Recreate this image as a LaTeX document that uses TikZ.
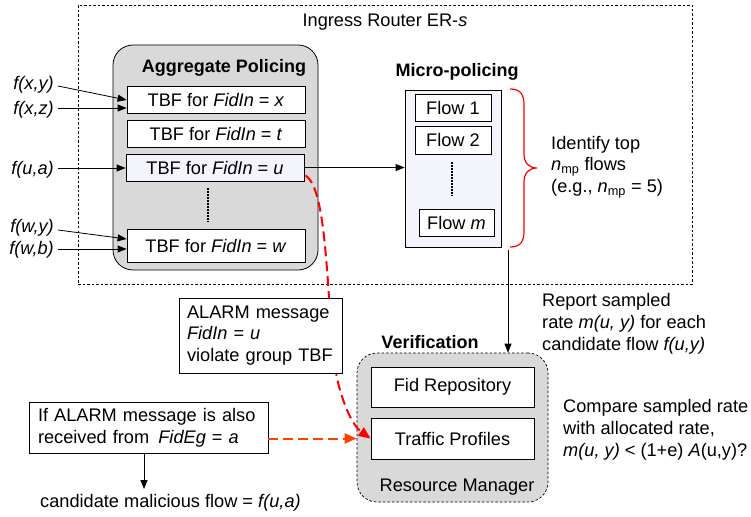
\documentclass[tikz,border=0pt]{standalone}
\usepackage{fontspec}
\setmainfont{Liberation Sans}
\usetikzlibrary{arrows.meta,calc}
\definecolor{grayfill}{RGB}{217,217,217}
\definecolor{lavfill}{RGB}{244,244,252}
\definecolor{alarmred}{RGB}{255,0,0}
\definecolor{alarmorange}{RGB}{255,64,0}
\begin{document}
\begin{tikzpicture}[x=1pt,y=-1pt,
  font=\fontsize{18.2}{21.8}\selectfont,
  box/.style={draw=black, line width=0.8pt, fill=white, inner sep=0pt},
  txt/.style={inner sep=0pt},
  ttl/.style={inner sep=0pt, font=\fontsize{18}{21.8}\selectfont\bfseries},
  arr/.style={line width=0.8pt, -{Triangle[length=9pt,width=7pt]}},
  dashbox/.style={draw=black, line width=0.7pt, dash pattern=on 2.5pt off 2pt},
  vdots/.style={line width=1.8pt, dash pattern=on 2pt off 1pt},
  reddash/.style={draw=alarmred, line width=2pt, dash pattern=on 10pt off 5pt,
    -{Triangle[length=12pt,width=10pt,fill=alarmred]}},
  orangedash/.style={draw=alarmorange, line width=2pt, dash pattern=on 10pt off 5pt,
    -{Triangle[length=12pt,width=10pt,fill=alarmorange]}}
]
\fill[white] (0,0) rectangle (751,516);
\useasboundingbox (0,0) rectangle (751,516);

% outer router box
\node[dashbox, minimum width=614pt, minimum height=279pt] (router) at (385,144.5) {};
\node[txt] (routerttl) at (385,22) {Ingress Router ER-\textit{s}};

% aggregate policing
\node[draw=black, line width=0.8pt, fill=grayfill, rounded corners=20pt,
      minimum width=205pt, minimum height=225pt] (agg) at (215.5,157.5) {};
\node[ttl] (aggttl) at (224,68) {Aggregate Policing};
\node[box, minimum width=178pt, minimum height=27pt] (tbfx) at (216,99.5) {TBF for \textit{FidIn} = \textit{x}};
\node[box, minimum width=178pt, minimum height=27pt] (tbft) at (216,133.5) {TBF for \textit{FidIn} = \textit{t}};
\node[box, fill=lavfill, minimum width=178pt, minimum height=27pt] (tbfu) at (215,167.5) {TBF for \textit{FidIn} = \textit{u}};
\node[box, minimum width=178pt, minimum height=33pt] (tbfw) at (216,246) {TBF for \textit{FidIn} = \textit{w}};
\draw[vdots] (208,188) -- (208,222);

% inputs
\node[txt, anchor=east] (fxy) at (54,85) {\textit{f(x,y)}};
\node[txt, anchor=east] (fxz) at (54,110) {\textit{f(x,z)}};
\node[txt, anchor=east] (fua) at (54,170) {\textit{f(u,a)}};
\node[txt, anchor=east] (fwy) at (54,228) {\textit{f(w,y)}};
\node[txt, anchor=east] (fwb) at (54,250) {\textit{f(w,b)}};
\draw[arr] ($(fxy.east)+(4,1)$) -- ($(tbfx.west)+(0,0.5)$);
\draw[arr] ($(fxz.east)+(4,-2)$) -- (tbfx.west |- 0,108);
\draw[arr] ($(fua.east)+(4,-2)$) -- (tbfu.west |- 0,168);
\draw[arr] ($(fwy.east)+(4,2)$) -- (tbfw.west |- 0,239);
\draw[arr] ($(fwb.east)+(4,-1)$) -- (tbfw.west |- 0,249);

% micro-policing
\node[ttl] (microttl) at (457,72) {Micro-policing};
\node[box, fill=lavfill, minimum width=96pt, minimum height=157pt] (micro) at (453,168.5) {};
\node[box, minimum width=76pt, minimum height=27pt] (flow1) at (453,107.5) {Flow 1};
\node[box, minimum width=76pt, minimum height=28pt] (flow2) at (453,140) {Flow 2};
\draw[vdots] (452,162) -- (452,196);
\node[box, minimum width=75pt, minimum height=27pt] (flowm) at (456.5,222.5) {Flow \textit{m}};
\draw[arr] (tbfu.east) -- (micro.west |- tbfu.east);

% brace
\draw[alarmred, line width=1.2pt] (510,89) .. controls (521,89) and (524,95) .. (524,105)
  -- (524,154) .. controls (524,163) and (529,168) .. (537,168)
  .. controls (529,168) and (524,173) .. (524,182)
  -- (524,231) .. controls (524,241) and (521,247) .. (510,247);
\node[txt, anchor=west, align=left] (identify) at (551,167)
  {Identify top\\\textit{n}\textsubscript{mp} flows\\(e.g., \textit{n}\textsubscript{mp} = 5)};

% verification
\node[ttl] (verifttl) at (430,342) {Verification};
\node[draw=black, line width=0.7pt, dash pattern=on 2.5pt off 2pt, fill=grayfill,
      rounded corners=20pt, minimum width=191pt, minimum height=149pt] (verif) at (452.5,427.5) {};
\node[box, minimum width=163pt, minimum height=40pt] (fid) at (452.5,387) {Fid Repository};
\node[box, minimum width=163pt, minimum height=41pt] (tp) at (452.5,438.5) {Traffic Profiles};
\node[txt] (rm) at (457,487) {Resource Manager};

\coordinate (rep) at (508,250);
\draw[arr] (rep) -- (rep |- verif.north);
\node[txt, anchor=west, align=left] (report) at (542,324)
  {Report sampled\\rate \textit{m(u, y)} for each\\candidate flow \textit{f(u,y)}};
\node[txt, anchor=west, align=left] (compare) at (563,430)
  {Compare sampled rate\\with allocated rate,\\\textit{m(u, y)} {<} (1+e) \textit{A}(u,y)?};

% alarm curve
\draw[reddash] ($(tbfu.east)+(1,8)$) .. controls (330,190) and (326,320) .. (337,378)
  .. controls (343,405) and (353,426) .. (tp.west);

\node[box, minimum width=163pt, minimum height=75pt, align=left, text width=147pt] (alarm) at (260.5,335.5)
  {ALARM message\\\textit{FidIn} = \textit{u}\\violate group TBF};

\node[box, minimum width=239pt, minimum height=51pt, align=left, text width=221pt] (ifbox) at (148.5,427.5)
  {If ALARM message is also\\received from \,\textit{FidEg} = \textit{a}};
\draw[orangedash] (ifbox.east |- tp.west) -- (verif.west |- tp.west);

\coordinate (candtop) at (144,489);
\node[txt, anchor=west] (cand) at (40,503) {candidate malicious flow = \textit{f(u,a)}};
\draw[arr] (ifbox.south -| candtop) -- (candtop);
\end{tikzpicture}
\end{document}
